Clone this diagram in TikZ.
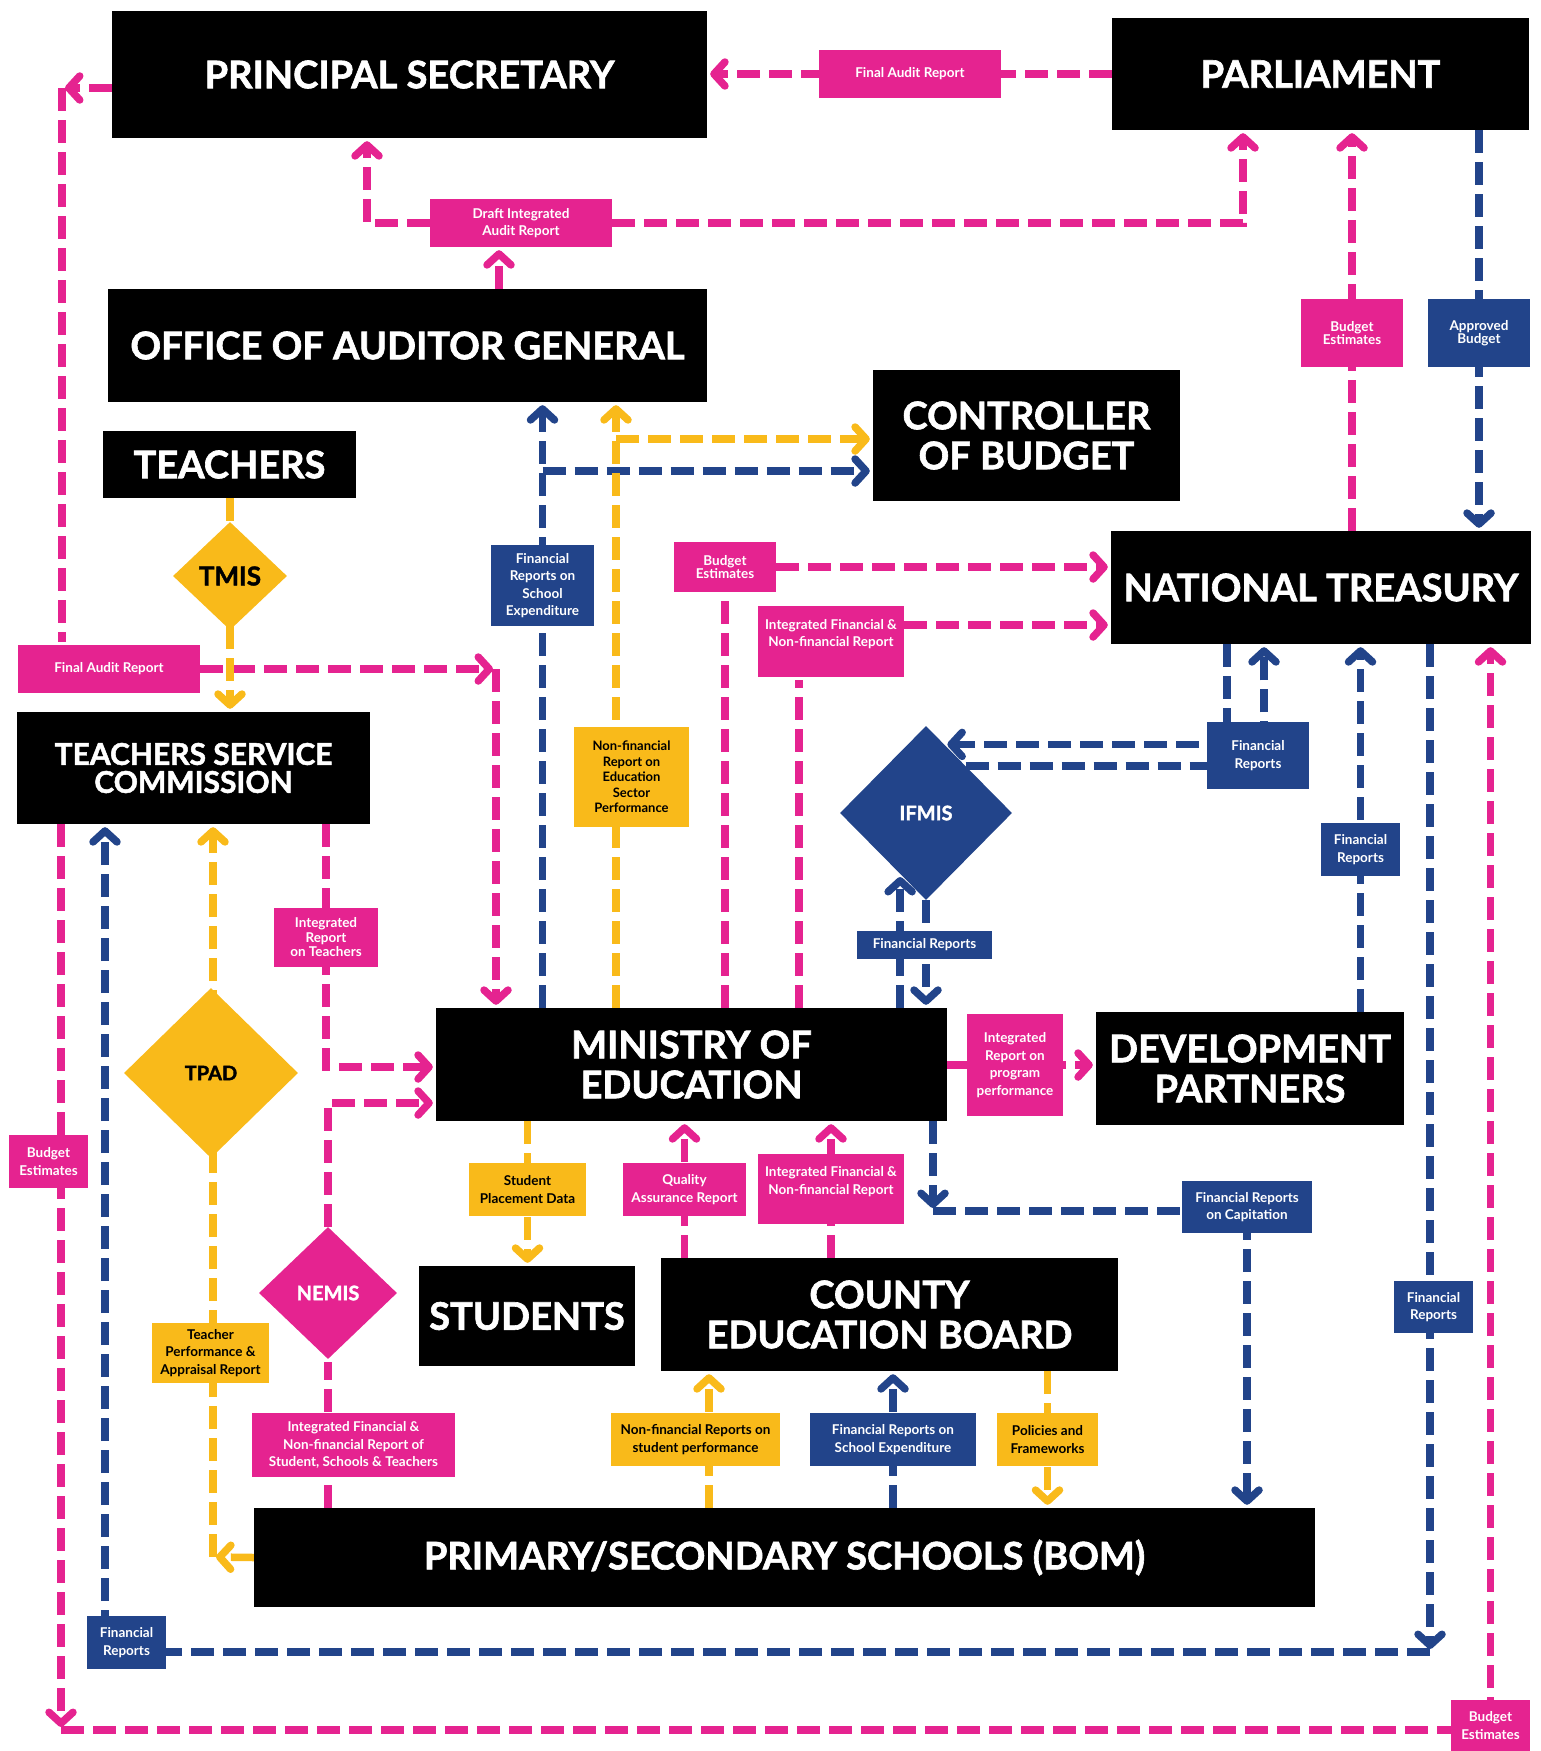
\documentclass[tikz,border=0pt]{standalone}
\usepackage{fontspec}
\setmainfont{Lato}
\newfontfamily\headfam{Lato}[BoldFeatures={FakeBold=1.6}]
\usetikzlibrary{arrows.meta,shapes.geometric,backgrounds}

\definecolor{pinkc}{HTML}{E52390}
\definecolor{navyc}{HTML}{22448A}
\definecolor{goldc}{HTML}{F9BA1A}

\newcommand{\hfont}{\headfam\bfseries\fontsize{38}{40}\selectfont}
\newcommand{\lfont}{\bfseries\fontsize{13.5}{17.5}\selectfont}

\tikzset{
  hbox/.style={fill=black, text=white, font=\hfont, align=center, inner sep=0pt},
  lab/.style={font=\lfont, align=center, inner sep=0pt},
  pkbox/.style={lab, fill=pinkc, text=white},
  blbox/.style={lab, fill=navyc, text=white},
  ylbox/.style={lab, fill=goldc, text=black},
  dmd/.style={diamond, inner sep=0pt, font=\headfam\bfseries\fontsize{20}{22}\selectfont},
  wh/.style 2 args={minimum width=#1pt, minimum height=#2pt},
  flow/.style={line width=7.5pt, dash pattern=on 23pt off 9pt, shorten >=3pt},
  pkl/.style={flow, pinkc},
  bll/.style={flow, navyc},
  yll/.style={flow, goldc},
}

\begin{document}
\begin{tikzpicture}[x=1pt, y=-1pt, >={Straight Barb[length=11pt,width=24pt,round]}]
\useasboundingbox (0,0) rectangle (1540,1751);

% main boxes
\node[hbox, wh={595}{127}] (ps) at (409.5,74.5) {PRINCIPAL SECRETARY};
\node[hbox, wh={417}{112}] (parl) at (1320.5,74) {PARLIAMENT};
\node[hbox, wh={599}{113}] (oag) at (407.5,345.5) {OFFICE OF AUDITOR GENERAL};
\node[hbox, wh={307}{131}] (cob) at (1026.5,435.5) {CONTROLLER\\OF BUDGET};
\node[hbox, wh={253}{67}] (teach) at (229.5,464.5) {TEACHERS};
\node[hbox, wh={420}{113}] (nt) at (1321,587.5) {NATIONAL TREASURY};
\node[hbox, wh={353}{112}, font=\headfam\bfseries\fontsize{30}{28}\selectfont] (tsc) at (193.5,768) {TEACHERS SERVICE\\COMMISSION};
\node[hbox, wh={511}{113}] (moe) at (691.5,1064.5) {MINISTRY OF\\EDUCATION};
\node[hbox, wh={308}{113}] (dp) at (1250,1068.5) {DEVELOPMENT\\PARTNERS};
\node[hbox, wh={216}{100}] (stud) at (527,1316) {STUDENTS};
\node[hbox, wh={457}{113}] (ceb) at (889.5,1314.5) {COUNTY\\EDUCATION BOARD};
\node[hbox, wh={1061}{99}] (sch) at (784.5,1557.5) {PRIMARY/SECONDARY SCHOOLS (BOM)};

% systems
\node[dmd, fill=goldc, wh={114}{108}, font=\headfam\bfseries\fontsize{26}{26}\selectfont] (tmis) at (230,576) {TMIS};
\node[dmd, fill=navyc, text=white, wh={172}{174}] (ifmis) at (926,813) {IFMIS};
\node[dmd, fill=goldc, wh={174}{170}] (tpad) at (211,1073) {TPAD};
\node[dmd, fill=pinkc, text=white, wh={138}{132}] (nemis) at (328,1293) {NEMIS};

% labels
\node[pkbox, wh={182}{48}] (far) at (910,74) {Final Audit Report};
\node[pkbox, wh={182}{48}] (dia) at (521,223) {Draft Integrated\\Audit Report};
\node[pkbox, wh={102}{68}, font=\bfseries\fontsize{13.5}{13}\selectfont] (bep) at (1352,333) {Budget\\Estimates};
\node[blbox, wh={102}{68}, font=\bfseries\fontsize{13.5}{13}\selectfont] (apb) at (1479,333) {Approved\\Budget};
\node[blbox, wh={103}{81}] (fexp) at (542.5,585.5) {Financial\\Reports on\\School\\Expenditure};
\node[ylbox, wh={115}{100}, font=\bfseries\fontsize{13}{15.5}\selectfont] (nfr) at (631.5,777) {Non-financial\\Report on\\Education\\Sector\\Performance};
\node[pkbox, wh={102}{50}, font=\bfseries\fontsize{13.5}{13}\selectfont] (be2) at (725,567) {Budget\\Estimates};
\node[pkbox, wh={146}{71}] (ifr1) at (831,641.5) {Integrated Financial \&\\Non-financial Report\\\mbox{}};
\node[blbox, wh={102}{67}] (fr1) at (1258,755.5) {Financial\\Reports};
\node[blbox, wh={135}{28}] (ifr3) at (924.5,945) {Financial Reports};
\node[blbox, wh={79}{53}] (fr2) at (1360.5,849.5) {Financial\\Reports};
\node[blbox, wh={79}{52}] (fr3) at (1433.5,1307) {Financial\\Reports};
\node[blbox, wh={79}{53}] (fr4) at (126.5,1642.5) {Financial\\Reports};
\node[pkbox, wh={79}{53}] (bel) at (48.5,1161.5) {Budget\\Estimates};
\node[pkbox, wh={79}{51}] (beb) at (1490.5,1725.5) {Budget\\Estimates};
\node[pkbox, wh={182}{48}] (fal) at (109,669) {Final Audit Report};
\node[pkbox, wh={104}{59}, font=\bfseries\fontsize{13.5}{14.5}\selectfont] (irt) at (326,937.5) {Integrated\\Report\\on Teachers};
\node[ylbox, wh={117}{60}] (tpar) at (210.5,1353) {Teacher\\Performance \&\\Appraisal Report};
\node[pkbox, wh={203}{64}] (ifst) at (353.5,1445) {Integrated Financial \&\\Non-financial Report of\\Student, Schools \& Teachers};
\node[ylbox, wh={117}{53}] (spd) at (527.5,1189.5) {Student\\Placement Data};
\node[pkbox, wh={123}{53}] (qar) at (684.5,1189.5) {Quality\\Assurance Report};
\node[pkbox, wh={146}{70}] (ifr2) at (831,1189) {Integrated Financial \&\\Non-financial Report\\\mbox{}};
\node[pkbox, wh={96}{102}] (ipp) at (1015,1065) {Integrated\\Report on\\program\\performance};
\node[blbox, wh={130}{52}] (frc) at (1247,1207) {Financial Reports\\on Capitation};
\node[ylbox, wh={169}{53}] (nsp) at (695.5,1439.5) {Non-financial Reports on\\student performance};
\node[blbox, wh={166}{53}] (fse) at (893,1439.5) {Financial Reports on\\School Expenditure};
\node[ylbox, wh={101}{53}] (pfw) at (1047.5,1439.5) {Policies and\\Frameworks};

% bends
\coordinate (c1) at (62,88);
\coordinate (c2) at (496,669);
\coordinate (c3) at (61,1730);
\coordinate (c4) at (1430,1652);
\coordinate (c5) at (933,1211);
\coordinate (c6) at (616,439);
\coordinate (c7) at (542.5,471);
\coordinate (c8) at (213,1557);

\begin{pgfonlayer}{background}
% pink
\draw[pkl,->] (parl.west) -- (ps.east |- parl.west);
\draw[pkl,->] (dia.west) -| (ps.south -| 367,0);
\draw[pkl,->] (dia.east) -| (parl.south -| 1243,0);
\draw[pkl,->] (oag.north -| 499,0) -- (dia.south -| 499,0);
\draw[pkl,->] (ps.west |- c1) -- (c1);
\draw[pkl] (c1) -- (fal.north -| c1);
\draw[pkl,->] (fal.east) -- (c2);
\draw[pkl,->] (c2) -- (moe.north -| c2);
\draw[pkl,->] (be2.east) -- (nt.west |- be2.east);
\draw[pkl] (moe.north -| be2) -- (be2.south);
\draw[pkl,->] (ifr1.east |- 0,625) -- (nt.west |- 0,625);
\draw[pkl] (moe.north -| 799,0) -- (ifr1.south -| 799,0);
\draw[pkl,->] (nt.north -| bep) -- (parl.south -| bep);
\draw[pkl,->] (tsc.south -| irt) |- (moe.west |- 0,1067);
\draw[pkl,->] (nemis.north) |- (moe.west |- 0,1103);
\draw[pkl] (sch.north -| nemis) -- (nemis.south);
\draw[pkl,->] (ceb.north -| qar) -- (moe.south -| qar);
\draw[pkl,->] (ceb.north -| ifr2) -- (moe.south -| ifr2);
\draw[pkl,->] (moe.east |- ipp) -- (dp.west |- ipp);
\draw[pkl,->] (tsc.south -| c3) -- (c3);
\draw[pkl,->] (c3) -| (nt.south -| beb);
% blue
\draw[bll,->] (parl.south -| apb) -- (nt.north -| apb);
\draw[bll,->] (moe.north -| fexp) -- (oag.south -| fexp);
\draw[bll,->] (c7) -- (cob.west |- c7);
\draw[bll,->] (nt.south -| 1227,0) |- (ifmis.75);
\draw[bll,->] (ifmis.50) -| (nt.south -| 1264,0);
\draw[bll,->] (moe.north -| ifmis.247) -- (ifmis.247);
\draw[bll,->] (ifmis.south) -- (moe.north -| ifmis.south);
\draw[bll,->] (dp.north -| fr2) -- (nt.south -| fr2);
\draw[bll,->] (nt.south -| c4) -- (c4);
\draw[bll,->] (c4) -| (tsc.south -| 105,0);
\draw[bll,->] (moe.south -| c5) -- (c5);
\draw[bll,->] (c5) -| (sch.north -| frc);
\draw[bll,->] (sch.north -| fse) -- (ceb.south -| fse);
% yellow
\draw[yll,->] (teach.south -| tmis) -- (tsc.north -| tmis);
\draw[yll,->] (moe.north -| c6) -- (oag.south -| c6);
\draw[yll,->] (c6) -- (cob.west |- c6);
\draw[yll,->] (moe.south -| spd) -- (stud.north -| spd);
\draw[yll,->] (sch.north -| 709,0) -- (ceb.south -| 709,0);
\draw[yll,->] (ceb.south -| pfw) -- (sch.north -| pfw);
\draw[yll,->] (sch.west) -- (c8);
\draw[yll,->] (c8) -- (tsc.south -| c8);
\end{pgfonlayer}
\end{tikzpicture}
\end{document}
